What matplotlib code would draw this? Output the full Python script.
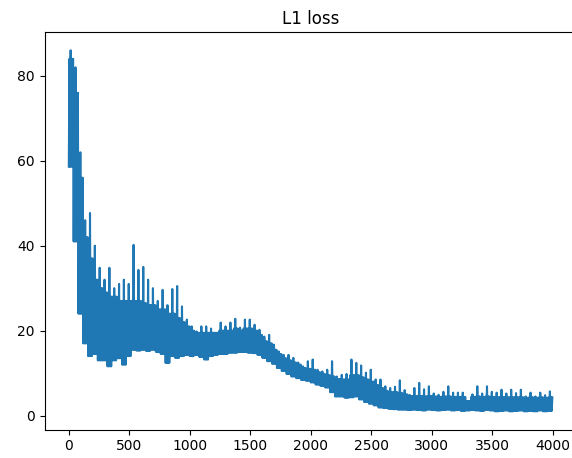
#!/usr/bin/python3
#
# plot.py
# L1 loss curve.

import matplotlib
matplotlib.use('Agg')
import matplotlib.pyplot as plt

STEP = 40  # spacing of the read-off samples (training steps)
SUB = 5    # spacing of the up/down strokes inside one sample

# highest spike inside each 40-step window, from step 0
upper = [86, 82, 62, 46, 47.7, 40, 34.8, 32, 34.8, 30,
         31, 32, 31, 40.2, 34.3, 35, 32, 30, 27, 29.6,
         26, 29.8, 30.5, 25.7, 22.6, 21, 19.8, 21, 21, 20.5,
         19.5, 21.9, 21, 21.9, 22.8, 20.7, 22.6, 22.6, 21.4, 20.2,
         18.6, 19, 16.7, 15.1, 14.3, 14.3, 13.6, 12.5, 11.6, 12.8,
         13.2, 10.8, 10.4, 10.8, 12.8, 9.2, 9.6, 9.8, 13.2, 12.4,
         11.8, 10.1, 10.8, 8.5, 8.5, 6.9, 6.5, 6.8, 8.3, 6.0,
         4.9, 6.5, 7.7, 6.2, 6.9, 5.2, 4.9, 5.6, 6.9, 5.4,
         5.4, 5.4, 3.4, 5.0, 6.9, 5.2, 6.9, 5.6, 5.4, 6.1,
         5.2, 6.1, 5.3, 6.1, 4.5, 5.4, 4.5, 5.4, 4.8, 5.7]

# top of the dense part of the band, same steps
band = [84, 76, 56, 42, 37, 32, 30, 29, 28, 28,
        27, 27, 27, 27, 27, 26.5, 26, 26, 25, 25,
        24, 24, 23, 22, 21, 20, 19.5, 19.5, 19.5, 19.5,
        19.5, 20, 20, 20, 20.5, 20, 20.5, 20.5, 20, 19,
        17.5, 17, 15.5, 14.5, 13.5, 13, 12.5, 12, 11.2, 11,
        10.8, 10.2, 9.8, 9.5, 9.2, 8.6, 8.5, 8.5, 9.5, 9.5,
        9, 8.5, 8, 7.2, 6.5, 5.8, 5.5, 5.5, 5.3, 5,
        4.6, 4.6, 4.6, 4.5, 4.6, 4.5, 4.4, 4.5, 4.5, 4.4,
        4.4, 4.4, 3.4, 4.4, 4.5, 4.4, 4.5, 4.4, 4.3, 4.4,
        4.3, 4.3, 4.3, 4.3, 4.2, 4.3, 4.2, 4.3, 4.2, 4.3]

# bottom edge of the band, same steps
lower = [58.6, 41, 24, 17, 14, 14.5, 13, 13, 11.6, 13,
         13.5, 12, 14, 15.5, 15.3, 15.5, 15.2, 15.5, 15, 14.5,
         12.4, 14, 13.6, 14, 14.3, 14, 14.3, 13.8, 13.2, 14,
         14.3, 14.5, 14.5, 14.8, 14.8, 15, 15, 14.8, 14.7, 14.3,
         13.6, 12.8, 12.2, 11.2, 10.5, 9.8, 9.2, 8.8, 8.4, 8.2,
         7.8, 7.3, 7.0, 6.6, 5.5, 4.5, 4.5, 4.2, 4.3, 4.5,
         3.8, 3.2, 2.8, 2.4, 1.9, 1.8, 1.6, 1.5, 1.4, 1.4,
         1.3, 1.4, 1.3, 1.2, 1.4, 1.3, 1.2, 1.3, 1.4, 1.2,
         1.3, 1.1, 1.2, 1.3, 1.2, 1.1, 1.3, 1.2, 1.0, 1.1,
         1.2, 1.0, 1.1, 1.2, 1.0, 1.1, 1.0, 1.2, 1.0, 1.1]


def main():
    # zigzag between the read edges; one stroke per window reaches the spike
    steps = []
    loss = []
    for i in range(len(upper)):
        for k in range(STEP // SUB):
            steps.append(i * STEP + k * SUB)
            if k % 2 == 0:
                loss.append(lower[i])
            elif k == 3:
                loss.append(upper[i])
            else:
                loss.append(band[i])

    fig = plt.figure(figsize=(5.72, 4.58), dpi=100)
    ax = fig.add_axes([0.078, 0.062, 0.931, 0.868])
    ax.plot(steps, loss)
    ax.set_title('L1 loss')
    ax.set_xlim(-200, 4200)
    ax.set_ylim(-3.3, 90.3)
    fig.savefig('out.png', dpi=100)


if __name__ == '__main__':
    main()
